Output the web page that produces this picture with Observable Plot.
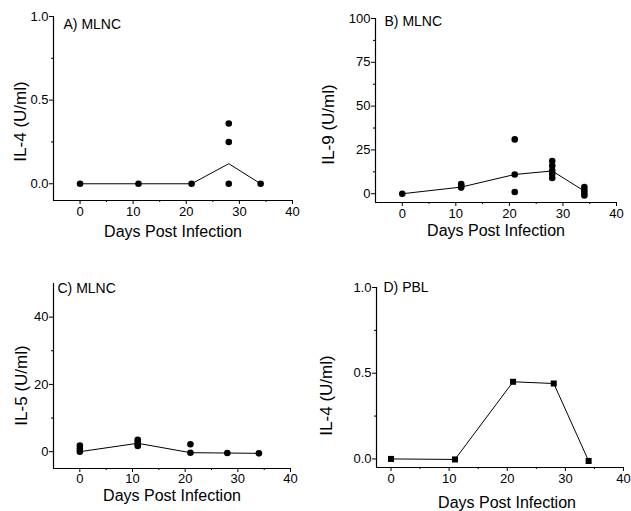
<!DOCTYPE html>
<html>
<head>
<meta charset="utf-8">
<script src="https://cdn.jsdelivr.net/npm/d3@7"></script>
<script src="https://cdn.jsdelivr.net/npm/@observablehq/plot@0.6"></script>
<style>
  html, body { margin: 0; padding: 0; background: #fff; }
  #wrap { position: relative; width: 631px; height: 511px; background: #fff; overflow: hidden; }
  #wrap > svg { position: absolute; }
</style>
</head>
<body>
<div id="wrap"></div>
<script>
// ---- data ----
const days = [0, 11, 21, 28, 34];
const xMajorTicks = [0, 10, 20, 30, 40];
const xMinorTicks = [5, 15, 25, 35];

// A) MLNC IL-4
const aDotDays = [0, 11, 21, 28, 28, 28, 34];
const aDotVals = [0, 0, 0, 0.36, 0.25, 0, 0];
const aMean = [0, 0, 0, 0.12, 0];
const aYTicks = [0, 0.5, 1.0];
const aYMinor = [0.25, 0.75];

// B) MLNC IL-9
const bDotDays = [0, 11, 11, 11, 21, 21, 21, 28, 28, 28, 28, 28, 34, 34, 34, 34];
const bDotVals = [0, 5.5, 4.5, 3.5, 31, 11, 1, 18.7, 16, 13.3, 11.3, 9, 3.8, 2, 0.4, -1];
const bMean = [0, 3.8, 11, 13, 1.5];
const bYTicks = [0, 25, 50, 75, 100];
const bYMinor = [12.5, 37.5, 62.5, 87.5];

// C) MLNC IL-5
const cDotDays = [0, 0, 0, 11, 11, 11, 11, 21, 21, 28, 34];
const cDotVals = [1.8, 0.8, 0, 3.5, 2.9, 2.2, 1.7, 2.2, -0.3, -0.4, -0.5];
const cMean = [0, 2.5, -0.3, -0.4, -0.5];
const cYTicks = [0, 20, 40];
const cYMinor = [10, 30];

// D) PBL IL-4
const dVals = [0, -0.003, 0.45, 0.44, -0.012];
const dYTicks = [0, 0.5, 1.0];
const dYMinor = [0.25, 0.75];

const xLabel = "Days Post Infection";
const FONT = "'Liberation Sans', Arial, Helvetica, sans-serif";

function panel(cfg) {
  const dots = cfg.dotDays.map((d, i) => ({day: d, v: cfg.dotVals[i]}));
  const line = days.map((d, i) => ({day: d, v: cfg.mean[i]}));
  const p = Plot.plot({
    width: cfg.width,
    height: cfg.height,
    marginLeft: cfg.ml, marginRight: cfg.mr, marginTop: cfg.mt, marginBottom: cfg.mb,
    style: {fontFamily: FONT, fontSize: "13px", background: "transparent", color: "black", overflow: "visible"},
    x: {domain: cfg.xDomain},
    y: {domain: cfg.yDomain},
    marks: [
      Plot.ruleX([cfg.xDomain[0]], {stroke: "black", strokeWidth: 1.2}),
      Plot.ruleY([cfg.yDomain[0]], {stroke: "black", strokeWidth: 1.2}),
      Plot.axisX(xMajorTicks, {tickSize: 4, tickPadding: cfg.xpad, label: null, fontSize: 13}),
      Plot.axisX(xMinorTicks, {tickSize: 2, tickFormat: () => "", label: null}),
      Plot.axisY(cfg.yTicks, {tickSize: 4, tickPadding: 1, label: null, fontSize: 13, tickFormat: cfg.yFormat}),
      Plot.axisY(cfg.yMinor, {tickSize: 2, tickFormat: () => "", label: null}),
      Plot.line(line, {x: "day", y: "v", stroke: "black", strokeWidth: 1}),
      Plot.dot(dots, {x: "day", y: "v", r: cfg.r, fill: "black", stroke: "none", symbol: cfg.symbol}),
      Plot.text([cfg.title], {frameAnchor: "top-left", textAnchor: "start", lineAnchor: "bottom", dx: cfg.tdx, dy: cfg.tdy, fontSize: 14}),
      Plot.text([xLabel], {frameAnchor: "bottom", textAnchor: "middle", lineAnchor: "bottom", dx: cfg.xdx, dy: cfg.xdy, fontSize: 16}),
      Plot.text([cfg.yLabel], {frameAnchor: "left", rotate: -90, textAnchor: "middle", lineAnchor: "middle", dx: cfg.ydx, dy: cfg.ydy, fontSize: 17})
    ]
  });
  p.style.left = cfg.left + "px";
  p.style.top = cfg.top + "px";
  document.getElementById("wrap").appendChild(p);
}

panel({
  left: 0, top: 0, width: 315, height: 255, ml: 53, mr: 23, mt: 16, mb: 55,
  xDomain: [-5, 40], yDomain: [-0.1, 1.0],
  dotDays: aDotDays, dotVals: aDotVals, mean: aMean,
  yTicks: aYTicks, yMinor: aYMinor, yFormat: d3.format(".1f"),
  r: 3.3, symbol: "circle", xpad: 2,
  title: "A) MLNC", tdx: 10, tdy: 12,
  xdx: 0, xdy: 36, yLabel: "IL-4 (U/ml)", ydx: -33, ydy: 13
});

panel({
  left: 315, top: 0, width: 316, height: 255, ml: 60, mr: 15, mt: 18, mb: 53,
  xDomain: [-5, 40], yDomain: [-5, 100],
  dotDays: bDotDays, dotVals: bDotVals, mean: bMean,
  yTicks: bYTicks, yMinor: bYMinor, yFormat: d3.format("d"),
  r: 3.3, symbol: "circle", xpad: 2,
  title: "B) MLNC", tdx: 9, tdy: 7,
  xdx: 0, xdy: 33, yLabel: "IL-9 (U/ml)", ydx: -47, ydy: 14
});

panel({
  left: 0, top: 255, width: 315, height: 256, ml: 53, mr: 25, mt: 28, mb: 43,
  xDomain: [-5, 40], yDomain: [-5, 50],
  dotDays: cDotDays, dotVals: cDotVals, mean: cMean,
  yTicks: cYTicks, yMinor: cYMinor, yFormat: d3.format("d"),
  r: 3.3, symbol: "circle", xpad: 1,
  title: "C) MLNC", tdx: 4, tdy: 9,
  xdx: 0, xdy: 32, yLabel: "IL-5 (U/ml)", ydx: -32, ydy: 9.5
});

panel({
  left: 315, top: 255, width: 316, height: 256, ml: 61, mr: 8, mt: 32, mb: 44,
  xDomain: [-2.5, 40], yDomain: [-0.05, 1.0],
  dotDays: days, dotVals: dVals, mean: dVals,
  yTicks: dYTicks, yMinor: dYMinor, yFormat: d3.format(".1f"),
  r: 3.4, symbol: "square", xpad: 2,
  title: "D) PBL", tdx: 7, tdy: 4,
  xdx: 7, xdy: 40, yLabel: "IL-4 (U/ml)", ydx: -50, ydy: 18
});
</script>
</body>
</html>
